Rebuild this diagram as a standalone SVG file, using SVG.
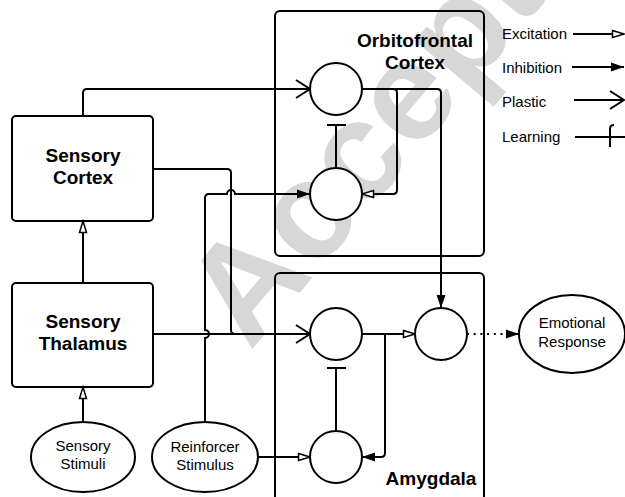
<svg xmlns="http://www.w3.org/2000/svg" width="625" height="497" viewBox="0 0 625 497">
<style>
text{font-family:"Liberation Sans",Arial,sans-serif;fill:#000}
.b{font-weight:bold;font-size:19px;text-anchor:middle}
.r{font-size:15px;text-anchor:middle}
.lg{font-size:15px}
.box{fill:none;stroke:#000;stroke-width:2}
.nd{fill:#fff;stroke:#000;stroke-width:2}
.c{fill:none;stroke:#000;stroke-width:2}
.wm{font-weight:bold;font-size:140px;fill:#d7d7d7}
</style>
<defs>
<marker id="exc" markerUnits="userSpaceOnUse" markerWidth="14" markerHeight="10" refX="12.5" refY="5" orient="auto" overflow="visible"><path d="M1,1.5 L12.5,5 L1,8.5 Z" fill="#fff" stroke="#000" stroke-width="1.5"/></marker>
<marker id="inh" markerUnits="userSpaceOnUse" markerWidth="14" markerHeight="10" refX="13" refY="5" orient="auto" overflow="visible"><path d="M0,0.5 L13,5 L0,9.5 Z" fill="#000"/></marker>
<marker id="pla" markerUnits="userSpaceOnUse" markerWidth="16" markerHeight="20" refX="14" refY="9" orient="auto" overflow="visible"><path d="M0,0 L14,9 L0,18" fill="none" stroke="#000" stroke-width="2"/></marker>
</defs>
<rect width="625" height="497" fill="#fff"/>
<text class="wm" transform="translate(250,352) rotate(-50)">Accepted</text>

<g id="ofc"><rect class="box" x="275" y="11" width="209" height="245" rx="5"/><text class="b" x="415" y="47">Orbitofrontal</text><text class="b" x="415" y="69">Cortex</text></g>
<g id="amygdala"><rect class="box" x="275" y="273" width="209" height="240" rx="5"/><text class="b" x="431" y="485">Amygdala</text></g>

<g id="connectors">
<path class="c" d="M83,116 V93 Q83,89 87,89 H310" marker-end="url(#pla)"/>
<path class="c" d="M83,283 V221" marker-end="url(#exc)"/>
<path class="c" d="M83,422 V387" marker-end="url(#exc)"/>
<path class="c" d="M153,169 H227 Q231,169 231,173 V330 Q231,334 235,334 H250"/>
<path class="c" d="M153,334 H310" marker-end="url(#pla)"/>
<path class="c" d="M205,422 V338 A4,4 0 0 0 205,330 V198 Q205,194 209,194 H227 A4,4 0 0 1 235,194 H310" marker-end="url(#inh)"/>
<path class="c" d="M258,457 H310" marker-end="url(#exc)"/>
<path class="c" d="M362,89 H437 Q441,89 441,93 V308" marker-end="url(#inh)"/>
<path class="c" d="M362,89 H393 Q397,89 397,93 V190 Q397,194 393,194 H362" marker-end="url(#exc)"/>
<path class="c" d="M336,168 V125 M327,125 H346"/>
<path class="c" d="M362,334 H415" marker-end="url(#exc)"/>
<path class="c" d="M385,334 V453 Q385,457 381,457 H362" marker-end="url(#inh)"/>
<path class="c" d="M336,431 V368 M327,368 H346"/>
<path class="c" d="M467,334 H506" stroke-dasharray="2 4.7"/>
<path class="c" d="M506,334 H519" stroke="none" marker-end="url(#inh)"/>
</g>

<g id="sensory-cortex"><rect class="box" x="12" y="116" width="141" height="105" rx="4"/><text class="b" x="83" y="162">Sensory</text><text class="b" x="83" y="184">Cortex</text></g>
<g id="sensory-thalamus"><rect class="box" x="12" y="283" width="141" height="104" rx="4"/><text class="b" x="83" y="328">Sensory</text><text class="b" x="83" y="350">Thalamus</text></g>
<g id="sensory-stimuli"><ellipse class="nd" cx="83" cy="457" rx="52" ry="35"/><text class="r" x="83" y="451">Sensory</text><text class="r" x="83" y="469">Stimuli</text></g>
<g id="reinforcer-stimulus"><ellipse class="nd" cx="205" cy="457" rx="53" ry="35"/><text class="r" x="205" y="452">Reinforcer</text><text class="r" x="205" y="470">Stimulus</text></g>
<g id="emotional-response"><ellipse class="nd" cx="572" cy="334" rx="53" ry="39"/><text class="r" x="572" y="328">Emotional</text><text class="r" x="572" y="347">Response</text></g>
<g id="ofc-top"><circle class="nd" cx="336" cy="89" r="26"/></g>
<g id="ofc-bottom"><circle class="nd" cx="336" cy="194" r="26"/></g>
<g id="amy-left"><circle class="nd" cx="336" cy="334" r="26"/></g>
<g id="amy-bottom"><circle class="nd" cx="336" cy="457" r="26"/></g>
<g id="amy-right"><circle class="nd" cx="441" cy="334" r="26"/></g>

<g id="legend">
<text class="lg" x="502" y="39">Excitation</text>
<path class="c" d="M573,34 H624" marker-end="url(#exc)"/>
<text class="lg" x="502" y="73">Inhibition</text>
<path class="c" d="M572,67 H624" marker-end="url(#inh)"/>
<text class="lg" x="502" y="107">Plastic</text>
<path class="c" d="M574,100 H624" marker-end="url(#pla)"/>
<text class="lg" x="502" y="142">Learning</text>
<path class="c" d="M575,137 H625 M614,125 Q610,125 610,129 V147"/>
</g>
</svg>
